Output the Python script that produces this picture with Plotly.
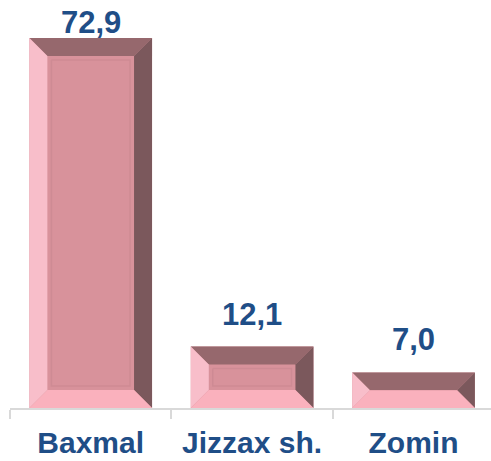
import plotly.graph_objects as go

# ---- data ----
categories = ["Baxmal", "Jizzax sh.", "Zomin"]
values = [72.9, 12.1, 7.0]
value_labels = ["72,9", "12,1", "7,0"]

# ---- layout constants ----
W, H = 491, 461
M_L, M_R, M_T, M_B = 10, 0, 0, 53
Y_MAX = 80.4
X_RANGE = [-0.5, 2.48]
BAR_W = 0.76
plot_w = W - M_L - M_R
plot_h = H - M_T - M_B
px_x = plot_w / (X_RANGE[1] - X_RANGE[0])  # px per category unit
px_y = plot_h / Y_MAX                       # px per value unit

BLUE = "#1F4E87"
FACE = "#D8929B"
TOP_C = "#96686D"
RIGHT_C = "#7B585C"
LEFT_C = "#F8BECA"
BOTTOM_C = "#FAB1BD"
FRAME_C = "#CE8B94"
FONT = "Liberation Sans, Arial, sans-serif"

fig = go.Figure()

fig.add_trace(go.Bar(
    x=list(range(len(categories))), y=values, width=BAR_W,
    marker=dict(color=FACE, line=dict(width=0)), hoverinfo="skip",
    showlegend=False,
))

def poly(xs, ys, color):
    fig.add_trace(go.Scatter(
        x=xs + [xs[0]], y=ys + [ys[0]], mode="lines", fill="toself",
        fillcolor=color, line=dict(width=0, color=color),
        hoverinfo="skip", showlegend=False,
    ))

for i, v in enumerate(values):
    h_px = v * px_y
    b_px = min(18, h_px / 2)
    bx = b_px / px_x
    by = b_px / px_y
    x0, x1 = i - BAR_W / 2, i + BAR_W / 2
    # top bevel
    poly([x0, x1, x1 - bx, x0 + bx], [v, v, v - by, v - by], TOP_C)
    # right bevel
    poly([x1, x1, x1 - bx, x1 - bx], [v, 0, by, v - by], RIGHT_C)
    # left bevel
    poly([x0, x0 + bx, x0 + bx, x0], [v, v - by, by, 0], LEFT_C)
    # bottom bevel
    poly([x0, x1, x1 - bx, x0 + bx], [0, 0, by, by], BOTTOM_C)
    # inner panel frame
    inset = 22
    if h_px > 2 * inset + 6:
        ix = inset / px_x
        iy = inset / px_y
        fig.add_trace(go.Scatter(
            x=[x0 + ix, x1 - ix, x1 - ix, x0 + ix, x0 + ix],
            y=[v - iy, v - iy, iy, iy, v - iy],
            mode="lines", line=dict(color=FRAME_C, width=1.5),
            hoverinfo="skip", showlegend=False,
        ))

# value labels
label_shift = 13 / px_y
label_cap = Y_MAX - 42 / px_y
for i, (v, t) in enumerate(zip(values, value_labels)):
    fig.add_annotation(
        x=i, y=min(v + label_shift, label_cap), text=t, showarrow=False,
        yanchor="bottom", xanchor="center",
        font=dict(family=FONT, size=31, color=BLUE, weight="bold"),
    )

fig.update_layout(
    width=W, height=H,
    margin=dict(l=M_L, r=M_R, t=M_T, b=M_B),
    paper_bgcolor="white", plot_bgcolor="white",
    showlegend=False,
    xaxis=dict(
        range=X_RANGE, tickmode="array",
        tickvals=list(range(len(categories))), ticktext=categories,
        showline=True, linecolor="#D9D9D9", linewidth=1.5,
        ticks="outside", ticklen=7, tickcolor="rgba(0,0,0,0)", tickwidth=1.5,
        minor=dict(tick0=-0.5, dtick=1, ticks="outside", ticklen=9,
                   tickcolor="#D9D9D9", tickwidth=1.5, showgrid=False),
        showgrid=False, zeroline=False, automargin=False,
        ticklabelstandoff=0,
        tickfont=dict(family=FONT, size=30, color=BLUE, weight="bold"),
    ),
    yaxis=dict(range=[0, Y_MAX], visible=False, showgrid=False),
)

fig.write_html(
    "out.html",
    config={"displayModeBar": False},
    post_script="document.body.style.margin='0';document.body.style.overflow='hidden';",
)
